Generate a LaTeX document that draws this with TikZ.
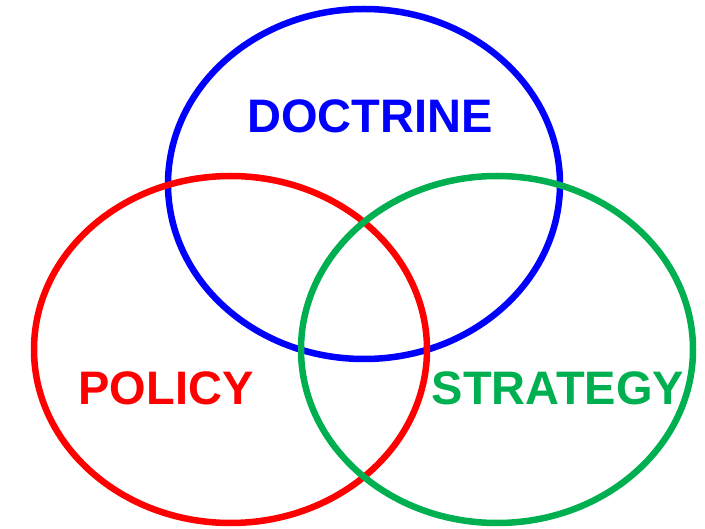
\documentclass[tikz,border=0pt]{standalone}
\usepackage{fontspec}
\setmainfont{Liberation Sans}
\definecolor{vblue}{RGB}{0,0,255}
\definecolor{vred}{RGB}{255,0,0}
\definecolor{vgreen}{RGB}{0,176,80}
\begin{document}
\begin{tikzpicture}[x=1pt,y=-1pt,
  ring/.style={line width=6.5pt},
  lbl/.style={font=\fontsize{47}{50}\selectfont\bfseries, inner sep=0pt}]
\useasboundingbox (0,0) rectangle (705,529);
\draw[ring, vblue] (364,184) ellipse [x radius=196, y radius=175];
\draw[ring, vred] (230.5,349.5) ellipse [x radius=196.5, y radius=173.5];
\draw[ring, vgreen] (497,349.5) ellipse [x radius=196, y radius=173.5];
\node[lbl, text=vblue] (doctrine) at (370,116.5) {DOCTRINE};
\node[lbl, text=vred] (policy) at (166,388.5) {POLICY};
\node[lbl, text=vgreen] (strategy) at (558,388.5) {STRATEGY};
\end{tikzpicture}
\end{document}
